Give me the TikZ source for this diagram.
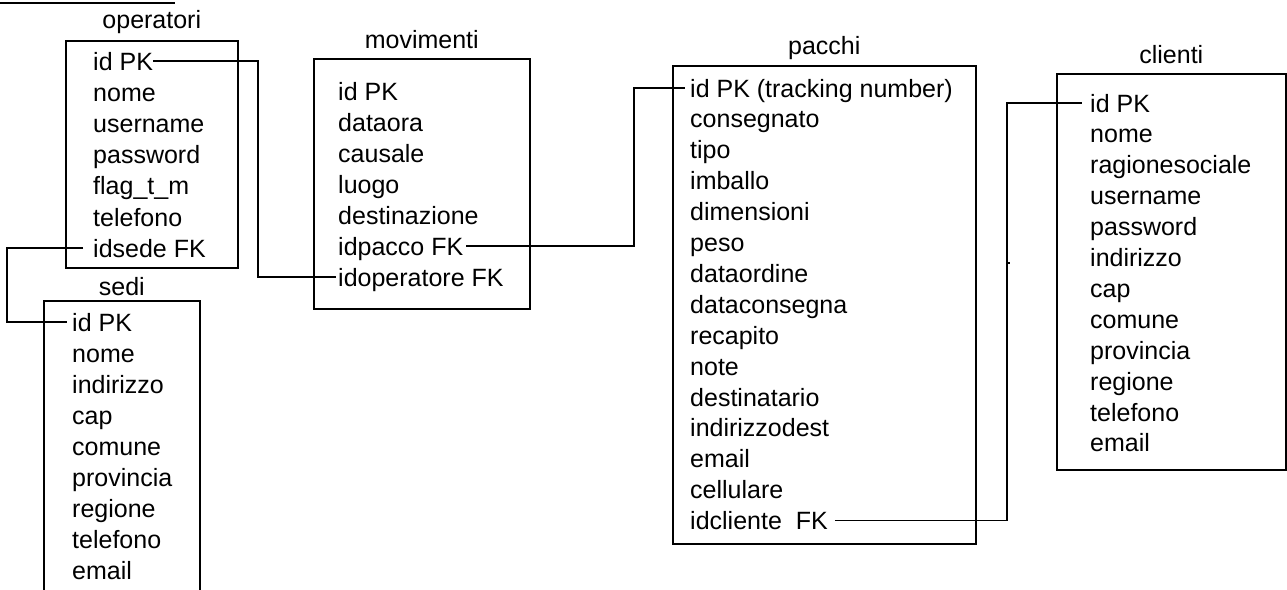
\documentclass[tikz,border=0pt]{standalone}
\usepackage{fontspec}
\setmainfont{Liberation Sans}
\usetikzlibrary{calc,positioning}
\newcommand\fieldfont{\fontsize{25}{30}\selectfont}

\begin{document}
\begin{tikzpicture}[x=1pt,y=-1pt,
    tbl/.style={draw,line width=1.6pt,rectangle,inner sep=0pt,anchor=north west},
    fld/.style={anchor=west,inner sep=0pt,text height=18pt,text depth=0pt,font=\fieldfont},
    ttl/.style={anchor=base,inner sep=0pt,font=\fieldfont},
    rel/.style={line width=1.6pt}]
 \useasboundingbox (0,0) rectangle (1287,589);
 % tables
 \node[tbl,minimum width=172pt,minimum height=227pt] (operatori) at (65,40) {};
 \node[tbl,minimum width=216pt,minimum height=250pt] (movimenti) at (313,58) {};
 \node[tbl,minimum width=303pt,minimum height=478pt] (pacchi) at (672,65) {};
 \node[tbl,minimum width=229pt,minimum height=396pt] (clienti) at (1056,73) {};
 \node[tbl,minimum width=156pt,minimum height=320pt] (sedi) at (43,300) {};
 \node[ttl] (operatori-title) at ([yshift=12pt]operatori.north) {operatori};
 \node[ttl] (movimenti-title) at ([yshift=10pt]movimenti.north) {movimenti};
 \node[ttl] (pacchi-title) at ([yshift=11pt]pacchi.north) {pacchi};
 \node[ttl] (clienti-title) at ([yshift=10pt]clienti.north) {clienti};
 \node[ttl] (sedi-title) at ([yshift=5pt]sedi.north) {sedi};
 % fields
 \foreach \f [count=\i] in {id PK,nome,username,password,flag\_t\_m,telefono,idsede FK}
  \node[fld] (operatori-\i) at ($(operatori.north west)+(28,{21+31.2*(\i-1)})$) {\f};
 \foreach \f [count=\i] in {id PK,dataora,causale,luogo,destinazione,idpacco FK,idoperatore FK}
  \node[fld] (movimenti-\i) at ($(movimenti.north west)+(25,{33+31*(\i-1)})$) {\f};
 \foreach \f [count=\i] in {id PK (tracking number),consegnato,tipo,imballo,dimensioni,peso,
   dataordine,dataconsegna,recapito,note,destinatario,indirizzodest,email,cellulare,idcliente~~FK}
  \node[fld] (pacchi-\i) at ($(pacchi.north west)+(18,{23+30.9*(\i-1)})$) {\f};
 \foreach \f [count=\i] in {id PK,nome,ragionesociale,username,password,indirizzo,cap,comune,
   provincia,regione,telefono,email}
  \node[fld] (clienti-\i) at ($(clienti.north west)+(34,{30+30.9*(\i-1)})$) {\f};
 \foreach \f [count=\i] in {id PK,nome,indirizzo,cap,comune,provincia,regione,telefono,email}
  \node[fld] (sedi-\i) at ($(sedi.north west)+(29,{22+31*(\i-1)})$) {\f};
 % links
 \coordinate (opmov) at (258,0);
 \coordinate (movpac) at (634,0);
 \coordinate (opsed) at (7,0);
 \coordinate (paccli) at (1007,0);
 \coordinate (stub) at (1007,263);
 \draw[rel] (operatori-1.east) -- (operatori-1.east -| opmov) |- ([xshift=-2pt]movimenti-7.west);
 \draw[rel,shorten <=3pt] (movimenti-6.east) -- (movimenti-6.east -| movpac) |- ([xshift=-5pt]pacchi-1.west);
 \draw[rel] ([xshift=-10pt]operatori-7.west) -- (operatori-7.west -| opsed) |- ([xshift=-5pt]sedi-1.west);
 \draw[rel] ([xshift=7pt]pacchi-15.east) -- (pacchi-15.east -| paccli) |- ([xshift=-8pt]clienti-1.west);
 \draw[rel] (stub) -- ++(3,0);
 \draw[rel] (0,3) -- (175,3);
\end{tikzpicture}
\end{document}
